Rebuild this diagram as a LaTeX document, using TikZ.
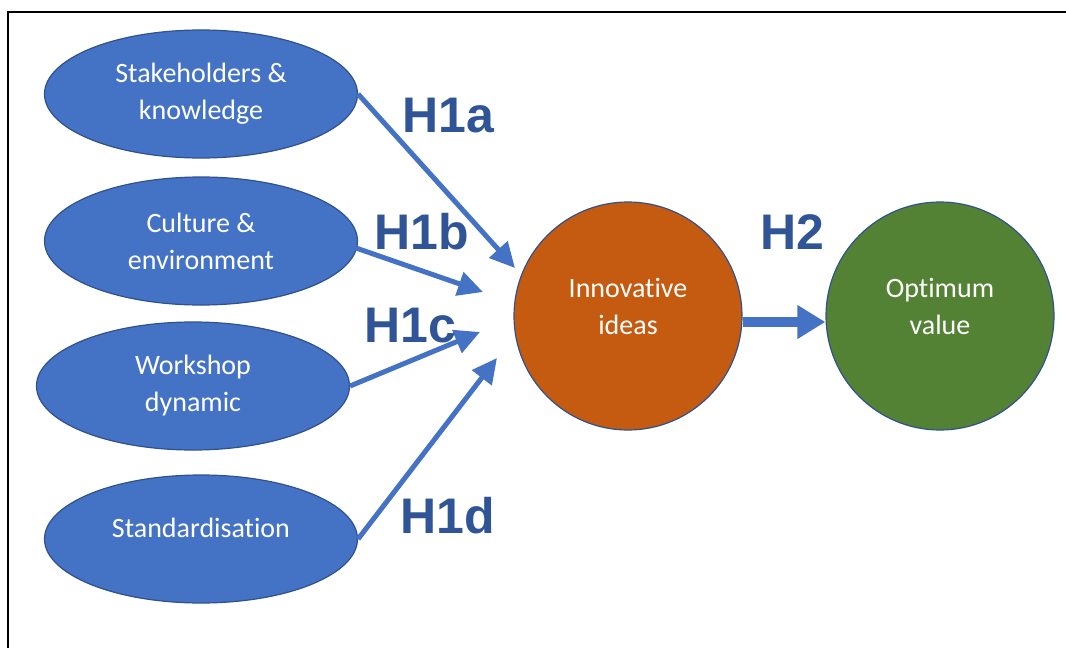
\documentclass[tikz,border=0pt]{standalone}
\usepackage{fontspec}
\setmainfont[Ligatures=NoCommon]{Carlito}
\newfontfamily\hypfont{Liberation Sans}
\usetikzlibrary{arrows.meta,shapes}
\definecolor{factorblue}{HTML}{4472C4}
\definecolor{factoredge}{HTML}{2F528F}
\definecolor{ideaorange}{HTML}{C55A11}
\definecolor{valuegreen}{HTML}{548235}
\definecolor{hyplabel}{HTML}{2F5597}
\tikzstyle{factor}=[ellipse, draw=factoredge, fill=factorblue, line width=1.2pt, minimum width=313pt, minimum height=128pt, inner sep=0pt, text=white, align=center, font=\fontsize{28}{37}\selectfont]
\tikzstyle{outcome}=[circle, draw=factoredge, line width=1.2pt, minimum size=228pt, inner sep=0pt, text depth=20pt, text=white, align=center, font=\fontsize{28}{37}\selectfont]
\tikzstyle{hyp}=[text=hyplabel, font=\hypfont\bfseries\fontsize{50}{50}\selectfont]
\tikzstyle{link}=[draw=factorblue, line width=5pt, -{Triangle[length=25pt,width=24pt]}]

\begin{document}
\begin{tikzpicture}[x=1pt,y=-1pt]
	\useasboundingbox (0,0) rectangle (1066,648);
	\draw[line width=2.5pt] (8,648) -- (8,12) -- (1066,12);

	\node[factor] (stake) at (201,94) {Stakeholders \&\\knowledge};
	\node[factor] (culture) at (201,241) {Culture \&\\environment};
	\node[factor] (workshop) at (193,386) {Workshop\\dynamic};
	\node[factor, text depth=22pt] (standard) at (201,539) {Standardisation};
	\node[outcome, fill=ideaorange] (ideas) at (628,316) {Innovative\\ideas};
	\node[outcome, fill=valuegreen] (value) at (940,316) {Optimum\\value};

	\coordinate (tipa) at (515,268);
	\coordinate (tipb) at (483,292);
	\coordinate (tipc) at (480,332);
	\coordinate (tipd) at (497,358);
	\coordinate (startb) at (356,248);

	\draw[link] (stake.east) -- (tipa);
	\draw[link] (startb) -- (tipb);
	\draw[link] (workshop.east) -- (tipc);
	\draw[link] (standard.east) -- (tipd);
	\draw[link, line width=10pt, -{Triangle[length=28pt,width=32pt]}] ([yshift=-6pt]ideas.east) -- ([yshift=-6pt]value.west);

	\node[hyp] (h1a) at (448,116) {H1a};
	\node[hyp] (h1b) at (422,232) {H1b};
	\node[hyp] (h1c) at (410,326) {H1c};
	\node[hyp] (h1d) at (448,516) {H1d};
	\node[hyp] (h2) at (792,232) {H2};
\end{tikzpicture}
\end{document}
